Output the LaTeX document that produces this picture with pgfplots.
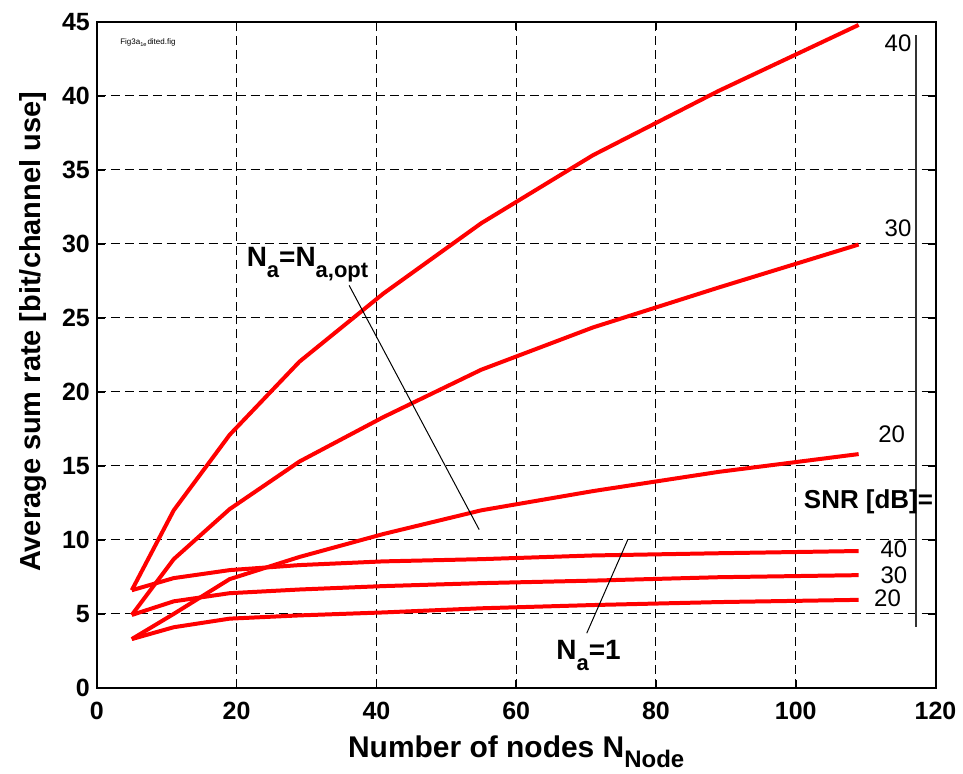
\documentclass[border=0pt]{standalone}
\usepackage{pgfplots}
\pgfplotsset{compat=1.18}
\usepackage{fontspec}
\setmainfont{Liberation Sans}
\newcommand{\dsub}[3]{\raisebox{-#1}{\fontsize{#2}{#2}\selectfont\bfseries #3}}
\begin{document}
\begin{tikzpicture}
\begin{axis}[
  scale only axis,
  width=420pt, height=333.5pt,
  xmin=0, xmax=120, ymin=0, ymax=45,
  xtick={0,20,...,120}, ytick={0,5,...,45},
  grid=major,
  major grid style={black, line width=0.5pt, dash pattern=on 4.5pt off 2.5pt},
  axis line style={black, line width=1pt},
  tick style={black, line width=0.8pt},
  tick align=inside,
  major tick length=4pt,
  /pgf/number format/assume math mode=true,
  ticklabel style={font=\fontsize{12.5}{14}\selectfont\bfseries},
  xticklabel style={yshift=-3.5pt},
  xlabel={Number of nodes N\dsub{5pt}{12}{Node}},
  ylabel={Average sum rate [bit/channel use]},
  xlabel style={font=\fontsize{15}{17}\selectfont\bfseries, yshift=-1pt},
  ylabel style={font=\fontsize{14.5}{17}\selectfont\bfseries, yshift=1pt, xshift=11.5pt},
  clip=false,
]
% N_a = N_a,opt
\addplot[red, line width=2pt] coordinates {(5,6.6) (11,12.0) (19,17.1) (29,22.05) (41,26.65) (55,31.4) (71,36.0) (89,40.35) (109,44.8)};
\addplot[red, line width=2pt] coordinates {(5,4.93) (11,8.7) (19,12.08) (29,15.3) (41,18.3) (55,21.5) (71,24.36) (89,27.06) (109,29.96)};
\addplot[red, line width=2pt] coordinates {(5,3.3) (11,5.0) (19,7.35) (29,8.85) (41,10.4) (55,12.0) (71,13.3) (89,14.6) (109,15.8)};
% N_a = 1
\addplot[red, line width=2pt] coordinates {(5,6.6) (11,7.42) (19,7.96) (29,8.3) (41,8.55) (55,8.7) (71,8.95) (89,9.1) (109,9.25)};
\addplot[red, line width=2pt] coordinates {(5,4.93) (11,5.85) (19,6.4) (29,6.65) (41,6.88) (55,7.08) (71,7.25) (89,7.48) (109,7.62)};
\addplot[red, line width=2pt] coordinates {(5,3.3) (11,4.1) (19,4.68) (29,4.9) (41,5.1) (55,5.38) (71,5.6) (89,5.8) (109,5.95)};
% annotation lines
\addplot[black, line width=0.5pt] coordinates {(36.1,27.2) (54.7,10.7)};
\addplot[black, line width=0.5pt] coordinates {(70.1,3.7) (76.0,10.05)};
\addplot[black!80, line width=0.6pt] coordinates {(117.2,44.1) (117.2,4.1)};
% texts
\node[anchor=west, font=\fontsize{4}{5}\selectfont, inner sep=0pt] at (axis cs:3.3,43.6) {Fig3a$_{\mathrm{1e}}$dited.fig};
\node[anchor=base west, font=\fontsize{14}{16}\selectfont\bfseries, inner sep=0pt] at (axis cs:21.4,28.5) {N\dsub{5.5pt}{11}{a}=N\dsub{5.5pt}{11}{a,opt}};
\node[anchor=base west, font=\fontsize{14}{16}\selectfont\bfseries, inner sep=0pt] at (axis cs:65.7,1.89) {N\dsub{5.5pt}{11}{a}=1};
\node[anchor=base east, font=\fontsize{13}{15}\selectfont\bfseries, inner sep=0pt] at (axis cs:119.7,12.1) {SNR [dB]=};
\begin{scope}[every node/.style={anchor=base east, font=\fontsize{12}{14}\selectfont, inner sep=0pt}]
\node at (axis cs:116.6,43.0) {40};
\node at (axis cs:116.6,30.5) {30};
\node at (axis cs:115.7,16.6) {20};
\node at (axis cs:116.0,8.84) {40};
\node at (axis cs:116.0,7.08) {30};
\node at (axis cs:115.1,5.53) {20};
\end{scope}
\end{axis}
\path ([xshift=-48.5pt,yshift=-40.5pt]current axis.south west) rectangle ([xshift=13pt,yshift=11pt]current axis.north east);
\end{tikzpicture}
\end{document}
